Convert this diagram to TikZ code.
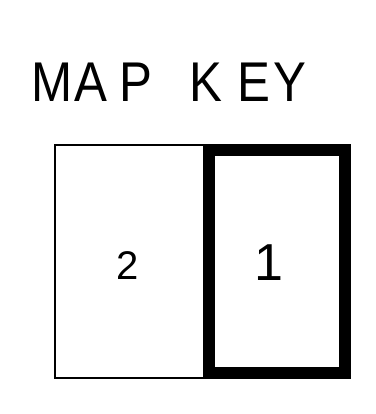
\documentclass[tikz,border=0pt]{standalone}
\usepackage{fontspec}
\setmainfont{Liberation Sans}
\begin{document}
\begin{tikzpicture}[x=1pt,y=-1pt,
  thinbox/.style={draw=black,line width=2pt,minimum width=154pt,minimum height=233pt,inner sep=0pt},
  thickbox/.style={draw=black,line width=12pt,minimum width=136pt,minimum height=223pt,inner sep=0pt},
  keylabel/.style={inner sep=0pt},
  title/.style={inner sep=0pt,anchor=base west,xscale=0.88,transform shape,font=\fontsize{56}{56}\selectfont}]
\useasboundingbox (0,0) rectangle (375,414);
\node[title] (title) at (31.4,102) {M\kern2ptA\kern14ptP\kern42ptK\kern17ptE\kern4ptY};
\node[thinbox] (key2) at (132,261.5) {};
\node[thickbox] (key1) at (277,261.5) {};
\node[keylabel,font=\fontsize{40}{40}\selectfont] (two) at (128,266) {2};
\node[keylabel,font=\fontsize{52}{52}\selectfont] (one) at (269,262.5) {1};
\end{tikzpicture}
\end{document}
